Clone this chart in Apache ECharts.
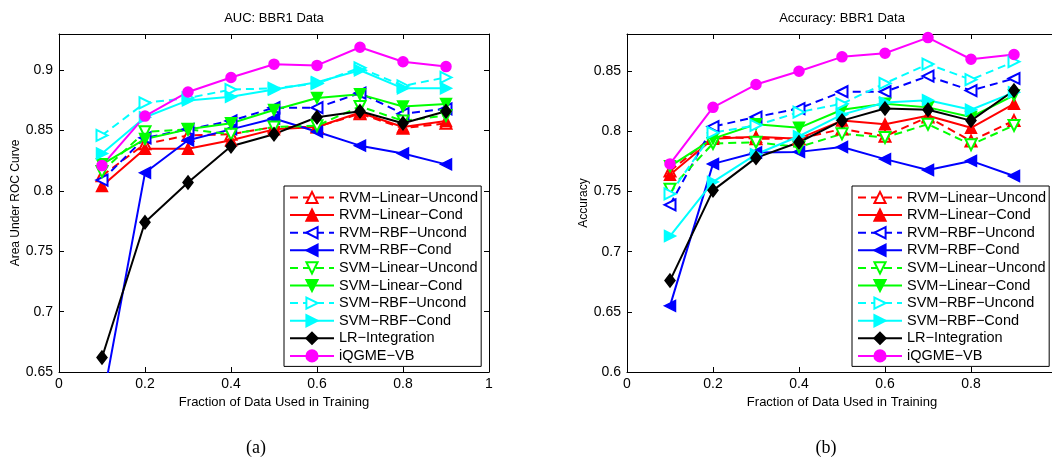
<!DOCTYPE html>
<html>
<head>
<meta charset="utf-8">
<script src="https://cdn.jsdelivr.net/npm/echarts@6/dist/echarts.min.js"></script>
<style>
html,body{margin:0;padding:0;background:#fff;}
#main{width:1052px;height:459px;}
</style>
</head>
<body>
<div id="main"></div>
<script>
// fraction of training data
var xVals = [0.1, 0.2, 0.3, 0.4, 0.5, 0.6, 0.7, 0.8, 0.9];

// (a) AUC
var aucRvmLinU = [0.8125, 0.839, 0.846, 0.847, 0.853, 0.853, 0.864, 0.852, 0.856];
var aucRvmLinC = [0.804, 0.835, 0.835, 0.842, 0.851, 0.853, 0.865, 0.853, 0.858];
var aucRvmRbfU = [0.809, 0.844, 0.851, 0.858, 0.869, 0.869, 0.881, 0.864, 0.868];
var aucRvmRbfC = [0.623, 0.815, 0.842, 0.851, 0.860, 0.849, 0.8375, 0.831, 0.822];
var aucSvmLinU = [0.816, 0.849, 0.851, 0.847, 0.853, 0.854, 0.870, 0.858, 0.8625];
var aucSvmLinC = [0.822, 0.843, 0.851, 0.856, 0.867, 0.877, 0.880, 0.870, 0.872];
var aucSvmRbfU = [0.846, 0.873, 0.877, 0.884, 0.885, 0.889, 0.902, 0.887, 0.894];
var aucSvmRbfC = [0.831, 0.861, 0.875, 0.878, 0.884, 0.890, 0.900, 0.885, 0.885];
var aucLr = [0.662, 0.774, 0.807, 0.837, 0.847, 0.861, 0.866, 0.856, 0.866];
var aucIqgme = [0.821, 0.862, 0.882, 0.894, 0.905, 0.904, 0.919, 0.907, 0.903];

// (b) Accuracy
var accRvmLinU = [0.767, 0.796, 0.794, 0.794, 0.802, 0.796, 0.812, 0.792, 0.809];
var accRvmLinC = [0.764, 0.794, 0.7955, 0.794, 0.809, 0.806, 0.813, 0.803, 0.823];
var accRvmRbfU = [0.739, 0.804, 0.812, 0.819, 0.833, 0.833, 0.846, 0.834, 0.844];
var accRvmRbfC = [0.655, 0.773, 0.7825, 0.783, 0.787, 0.777, 0.768, 0.7755, 0.763];
var accSvmLinU = [0.752, 0.790, 0.791, 0.787, 0.798, 0.795, 0.806, 0.789, 0.805];
var accSvmLinC = [0.771, 0.794, 0.806, 0.803, 0.818, 0.823, 0.820, 0.812, 0.830];
var accSvmRbfU = [0.748, 0.799, 0.805, 0.816, 0.823, 0.840, 0.856, 0.843, 0.858];
var accSvmRbfC = [0.713, 0.758, 0.781, 0.796, 0.814, 0.824, 0.826, 0.818, 0.8325];
var accLr = [0.676, 0.751, 0.778, 0.791, 0.809, 0.819, 0.818, 0.809, 0.834];
var accIqgme = [0.773, 0.820, 0.839, 0.850, 0.862, 0.865, 0.878, 0.860, 0.864];

var names = ['RVM−Linear−Uncond', 'RVM−Linear−Cond', 'RVM−RBF−Uncond', 'RVM−RBF−Cond',
  'SVM−Linear−Uncond', 'SVM−Linear−Cond', 'SVM−RBF−Uncond', 'SVM−RBF−Cond',
  'LR−Integration', 'iQGME−VB'];
var aucData = [aucRvmLinU, aucRvmLinC, aucRvmRbfU, aucRvmRbfC, aucSvmLinU, aucSvmLinC, aucSvmRbfU, aucSvmRbfC, aucLr, aucIqgme];
var accData = [accRvmLinU, accRvmLinC, accRvmRbfU, accRvmRbfC, accSvmLinU, accSvmLinC, accSvmRbfU, accSvmRbfC, accLr, accIqgme];

// line looks
var colors = ['#ff0000', '#ff0000', '#0000ff', '#0000ff', '#00ff00', '#00ff00', '#00ffff', '#00ffff', '#000000', '#ff00ff'];
var dashed = [true, false, true, false, true, false, true, false, false, false];
var symbols = ['emptyTriangle', 'triangle', 'emptyTriangle', 'triangle', 'emptyTriangle', 'triangle', 'emptyTriangle', 'triangle', 'diamond', 'circle'];
var rotates = [0, 0, 90, 90, 180, 180, -90, -90, 0, 0];
var sizes = [11, 11, 11, 11, 11, 11, 11, 11, [10, 13], 10];

var FONT = 'Arial, "Liberation Sans", Helvetica, sans-serif';

function makeSeries(data, xi, yi) {
  var out = [];
  for (var i = 0; i < names.length; i++) {
    var pts = [];
    for (var j = 0; j < xVals.length; j++) pts.push([xVals[j], data[i][j]]);
    out.push({
      type: 'line',
      name: names[i],
      xAxisIndex: xi,
      yAxisIndex: yi,
      data: pts,
      symbol: symbols[i],
      symbolRotate: rotates[i],
      symbolSize: sizes[i],
      showAllSymbol: true,
      clip: true,
      animation: false,
      color: colors[i],
      itemStyle: {color: colors[i], borderColor: colors[i], borderWidth: 1.5},
      lineStyle: {color: colors[i], width: 2, type: dashed[i] ? [8, 5] : 'solid'},
      emphasis: {disabled: true}
    });
  }
  return out;
}

function xAx(grid, top, show) {
  return {
    type: 'value', gridIndex: grid, min: 0, max: 1, interval: 0.2,
    position: top ? 'top' : 'bottom',
    name: show ? 'Fraction of Data Used in Training' : '',
    nameLocation: 'middle', nameGap: 23,
    nameTextStyle: {fontFamily: FONT, fontSize: 13, color: '#000'},
    axisLine: {show: true, onZero: false, lineStyle: {color: '#000', width: 1}},
    axisTick: {show: true, inside: true, length: 5, lineStyle: {color: '#000'}},
    axisLabel: {show: show, fontFamily: FONT, fontSize: 14, color: '#000', margin: 5},
    splitLine: {show: false}
  };
}

function yAx(grid, right, min, max, label, gap) {
  return {
    type: 'value', gridIndex: grid, min: min, max: max, interval: 0.05,
    position: right ? 'right' : 'left',
    name: right ? '' : label,
    nameLocation: 'middle', nameGap: gap,
    nameTextStyle: {fontFamily: FONT, fontSize: 12, color: '#000'},
    axisLine: {show: true, onZero: false, lineStyle: {color: '#000', width: 1}},
    axisTick: {show: true, inside: true, length: 5, lineStyle: {color: '#000'}},
    axisLabel: {show: !right, showMaxLabel: false, fontFamily: FONT, fontSize: 14, color: '#000', margin: 6},
    splitLine: {show: false}
  };
}

function legendFor(left) {
  return {
    data: names, orient: 'vertical', left: left, top: 186,
    backgroundColor: '#fff', borderColor: '#000', borderWidth: 1,
    padding: [4, 3, 3, 5], itemWidth: 44, itemHeight: 14, itemGap: 2.6,
    textStyle: {fontFamily: FONT, fontSize: 14.5, lineHeight: 15, color: '#000'},
    selectedMode: false
  };
}

var chart = echarts.init(document.getElementById('main'));
var option = {
  backgroundColor: '#fff',
  animation: false,
  grid: [
    {left: 59, top: 34, width: 430, height: 338, outerBoundsMode: 'none'},
    {left: 627, top: 34, width: 430, height: 338, outerBoundsMode: 'none'}
  ],
  xAxis: [xAx(0, false, true), xAx(0, true, false), xAx(1, false, true), xAx(1, true, false)],
  yAxis: [
    yAx(0, false, 0.65, 0.93, 'Area Under ROC Curve', 33),
    yAx(0, true, 0.65, 0.93, '', 0),
    yAx(1, false, 0.6, 0.881, 'Accuracy', 37),
    yAx(1, true, 0.6, 0.881, '', 0)
  ],
  legend: [legendFor(284), legendFor(852)],
  graphic: [
    {type: 'text', x: 274, y: 18, style: {text: 'AUC: BBR1 Data', font: '13px ' + FONT, fill: '#000', textAlign: 'center', textVerticalAlign: 'middle'}},
    {type: 'text', x: 842, y: 18, style: {text: 'Accuracy: BBR1 Data', font: '13px ' + FONT, fill: '#000', textAlign: 'center', textVerticalAlign: 'middle'}},
    {type: 'text', x: 256, y: 448, style: {text: '(a)', font: '18px "Liberation Serif", "Times New Roman", serif', fill: '#000', textAlign: 'center', textVerticalAlign: 'middle'}},
    {type: 'text', x: 826, y: 448, style: {text: '(b)', font: '18px "Liberation Serif", "Times New Roman", serif', fill: '#000', textAlign: 'center', textVerticalAlign: 'middle'}}
  ],
  series: makeSeries(aucData, 0, 0).concat(makeSeries(accData, 2, 2))
};
chart.setOption(option);
</script>
</body>
</html>
